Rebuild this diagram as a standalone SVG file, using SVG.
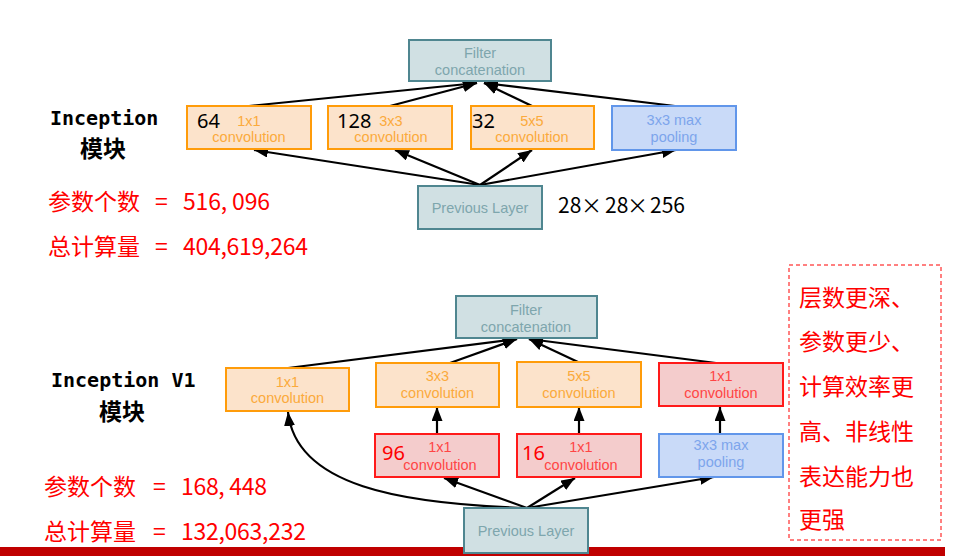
<svg xmlns="http://www.w3.org/2000/svg" width="965" height="557" viewBox="0 0 965 557">
<defs>
<marker id="ah" markerUnits="userSpaceOnUse" markerWidth="15" markerHeight="12" refX="14" refY="5.5" orient="auto">
<path d="M0,0 L14,5.5 L0,11 z" fill="#000"/>
</marker>
<style>
.box rect{stroke-width:2}
.or rect{fill:#fce3cb;stroke:#ff9c0a}
.or text{fill:#fbaa3c}
.bl rect{fill:#c9daf8;stroke:#6196ea}
.bl text{fill:#7da5ec}
.te rect{fill:#d0e0e3;stroke:#4f8690}
.te text{fill:#7ea6ad}
.rd rect{fill:#f4cccc;stroke:#ff1a1a}
.rd text{fill:#ff4545}
.box text{font-family:"Liberation Sans",Arial,sans-serif;font-size:14.5px;text-anchor:middle}
.box text.num{font-family:"Noto Sans","Liberation Sans",sans-serif;font-size:20px;text-anchor:start;fill:#000}
.box text.num.r{fill:#ff0000}
.conn line,.conn path{stroke:#000;stroke-width:2.2;fill:none;marker-end:url(#ah)}
.title{font-family:"DejaVu Sans Mono","Liberation Mono",monospace;font-weight:bold;font-size:20px;fill:#000}
.cjkb{font-family:"Noto Sans CJK SC",sans-serif;font-weight:bold;font-size:23px;fill:#000}
.stat{font-family:"Noto Sans CJK SC",sans-serif;font-size:23px;fill:#ff0000}
.note{font-family:"Noto Sans CJK SC",sans-serif;font-size:23px;fill:#ff0000}
</style>
</defs>
<rect width="965" height="557" fill="#fff"/>

<!-- Left labels -->
<g id="labels-top">
<text class="title" x="50" y="125">Inception</text>
<text class="cjkb" x="80" y="157">模块</text>
<text class="stat" x="48" y="210">参数个数</text>
<text class="stat" x="155" y="210">=</text>
<text class="stat" x="183" y="210" textLength="87" lengthAdjust="spacing">516, 096</text>
<text class="stat" x="48" y="255">总计算量</text>
<text class="stat" x="155" y="255">=</text>
<text class="stat" x="183" y="255" textLength="125" lengthAdjust="spacing">404,619,264</text>
</g>
<g id="labels-bottom">
<text class="title" x="51" y="387">Inception V1</text>
<text class="cjkb" x="99" y="420">模块</text>
<text class="stat" x="44" y="495">参数个数</text>
<text class="stat" x="153" y="495">=</text>
<text class="stat" x="181" y="495" textLength="86" lengthAdjust="spacing">168, 448</text>
<text class="stat" x="44" y="540">总计算量</text>
<text class="stat" x="153" y="540">=</text>
<text class="stat" x="181" y="540" textLength="125" lengthAdjust="spacing">132,063,232</text>
</g>

<!-- Connectors -->
<g id="connectors" class="conn">
<line x1="249" y1="106" x2="477" y2="83"/>
<line x1="390" y1="106" x2="477" y2="83"/>
<line x1="532" y1="106" x2="484" y2="83"/>
<line x1="675" y1="106" x2="484" y2="83"/>
<line x1="480" y1="185" x2="254" y2="150"/>
<line x1="480" y1="185" x2="395" y2="150"/>
<line x1="480" y1="185" x2="532" y2="150"/>
<line x1="480" y1="185" x2="676" y2="150"/>

<line x1="288" y1="368" x2="517" y2="339"/>
<line x1="450" y1="363" x2="517" y2="339"/>
<line x1="578" y1="362" x2="529" y2="339"/>
<line x1="716" y1="363" x2="529" y2="339"/>
<line x1="437" y1="434" x2="437" y2="407"/>
<line x1="579" y1="434" x2="579" y2="407"/>
<line x1="720" y1="434" x2="720" y2="407"/>
<line x1="527" y1="508" x2="444" y2="478"/>
<line x1="527" y1="508" x2="575" y2="478"/>
<line x1="527" y1="508" x2="714" y2="477"/>
<path d="M527,508 C400,504 296,486 288,412"/>
</g>

<!-- Top module nodes -->
<g id="t-filter" class="box te"><rect x="409" y="40" width="142" height="41"/><text x="480" y="58">Filter</text><text x="480" y="75">concatenation</text></g>
<g id="t-conv1" class="box or"><rect x="187" y="106" width="124" height="43"/><text x="249" y="126">1x1</text><text x="249" y="142">convolution</text><text class="num" x="197" y="128">64</text></g>
<g id="t-conv3" class="box or"><rect x="328" y="106" width="124" height="43"/><text x="391" y="126">3x3</text><text x="391" y="142">convolution</text><text class="num" x="337" y="128">128</text></g>
<g id="t-conv5" class="box or"><rect x="471" y="106" width="123" height="43"/><text x="532" y="126">5x5</text><text x="532" y="142">convolution</text><text class="num" x="472" y="128">32</text></g>
<g id="t-pool" class="box bl"><rect x="612" y="106" width="124" height="44"/><text x="674" y="125">3x3 max</text><text x="674" y="142">pooling</text></g>
<g id="t-prev" class="box te"><rect x="418" y="186" width="124" height="43"/><text x="480" y="213">Previous Layer</text></g>
<text x="558" y="213" font-family="'Noto Sans CJK SC',sans-serif" font-size="21" fill="#000"><tspan x="558">28</tspan><tspan x="581">×</tspan><tspan x="605">28</tspan><tspan x="627">×</tspan><tspan x="650">256</tspan></text>

<!-- Bottom module nodes -->
<g id="b-filter" class="box te"><rect x="456" y="296" width="141" height="42"/><text x="526" y="315">Filter</text><text x="526" y="332">concatenation</text></g>
<g id="b-conv1" class="box or"><rect x="226" y="368" width="123" height="43"/><text x="287.5" y="387">1x1</text><text x="287.5" y="403">convolution</text></g>
<g id="b-conv3" class="box or"><rect x="376" y="363" width="123" height="44"/><text x="437.5" y="381">3x3</text><text x="437.5" y="398">convolution</text></g>
<g id="b-conv5" class="box or"><rect x="517" y="362" width="124" height="45"/><text x="579" y="381">5x5</text><text x="579" y="398">convolution</text></g>
<g id="b-poolproj" class="box rd"><rect x="659" y="363" width="124" height="43"/><text x="721" y="381">1x1</text><text x="721" y="398">convolution</text></g>
<g id="b-red3" class="box rd"><rect x="375" y="434" width="124" height="43"/><text x="440" y="452">1x1</text><text x="440" y="470">convolution</text><text class="num r" x="382" y="460">96</text></g>
<g id="b-red5" class="box rd"><rect x="517" y="434" width="124" height="43"/><text x="581" y="452">1x1</text><text x="581" y="470">convolution</text><text class="num r" x="522" y="460">16</text></g>
<g id="b-pool" class="box bl"><rect x="659" y="434" width="124" height="43"/><text x="721" y="450">3x3 max</text><text x="721" y="467">pooling</text></g>

<rect x="0" y="547" width="945" height="9" fill="#c00000"/>
<g id="b-prev" class="box te"><rect x="464" y="508" width="124" height="45"/><text x="526" y="536">Previous Layer</text></g>

<!-- Note box -->
<g id="note">
<rect x="789" y="265" width="152" height="275" fill="none" stroke="#ff0000" stroke-width="1" stroke-dasharray="4,3"/>
<text class="note" x="799" y="306">层数更深、</text>
<text class="note" x="799" y="350">参数更少、</text>
<text class="note" x="799" y="395">计算效率更</text>
<text class="note" x="799" y="440">高、非线性</text>
<text class="note" x="799" y="485">表达能力也</text>
<text class="note" x="799" y="528">更强</text>
</g>
</svg>
